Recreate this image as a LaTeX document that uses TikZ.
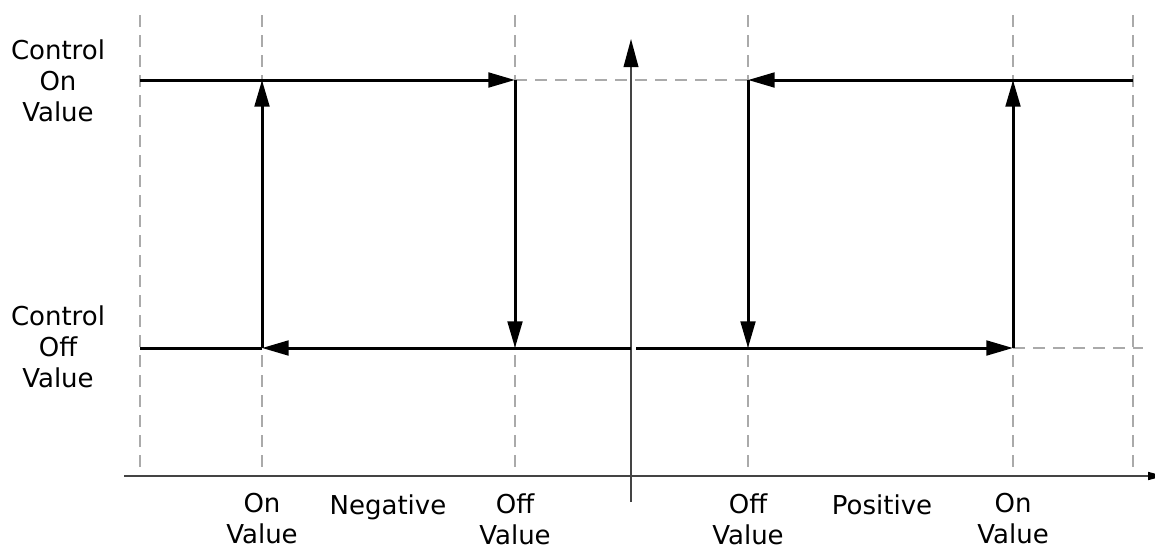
\documentclass[tikz,border=0pt]{standalone}
\usepackage{fontspec}
\setmainfont{DejaVu Sans}
\usetikzlibrary{arrows.meta}
\tikzset{every picture/.style={line width=0.75pt}}
\tikzset{
  guide/.style={color={rgb, 255:red, 170; green, 170; blue, 170}, line width=0.9pt, dash pattern={on 9pt off 6pt}},
  axis/.style={color={rgb, 255:red, 68; green, 68; blue, 68}, line width=1.2pt},
  level/.style={line width=2.25pt},
  hop/.style={level, -{Triangle[length=20pt,width=11pt]}},
  lbl/.style={font=\fontsize{19.5}{23.2}\selectfont, align=center, inner sep=0pt}
}

\begin{document}
\begin{tikzpicture}[x=0.75pt,y=0.75pt,yscale=-1,xscale=1]
\useasboundingbox (0,0) rectangle (1155,547);

% Points
\coordinate (leftTop) at (140,80);
\coordinate (leftBot) at (140,348);
\coordinate (negOnTop) at (262,80);
\coordinate (negOnBot) at (262,348);
\coordinate (negOffTop) at (515,80);
\coordinate (negOffBot) at (515,348);
\coordinate (midBotL) at (631,348);
\coordinate (midBotR) at (636,348);
\coordinate (posOffTop) at (748,80);
\coordinate (posOffBot) at (748,348);
\coordinate (posOnTop) at (1013,80);
\coordinate (posOnBot) at (1013,348);
\coordinate (rightTop) at (1133,80);
\coordinate (rightBot) at (1143,348);
\coordinate (xStart) at (124,476);
\coordinate (xEnd) at (1164,476);
\coordinate (yStart) at (631,502);
\coordinate (yEnd) at (631,39);

% Dashed guides
\foreach \gx in {140,262,515,748,1013,1133}
  \draw [guide] (\gx,15) -- (\gx,476) ;
\draw [guide] (negOffTop) -- (posOffTop) ;
\draw [guide] (posOnBot) -- (rightBot) ;

% Axes
\draw [axis, -{Triangle[length=12pt,width=6pt,color=black]}] (xStart) -- (xEnd) ;
\draw [axis, -{Triangle[length=21pt,width=11pt,color=black]}] (yStart) -- (yEnd) ;

% Negative side
\draw [level] (leftTop) -- (negOnTop) ;
\draw [hop] (negOnTop) -- (negOffTop) ;
\draw [hop] (negOffTop) -- (negOffBot) ;
\draw [level] (leftBot) -- (negOnBot) ;
\draw [hop] (midBotL) -- (negOnBot) ;
\draw [hop] (negOnBot) -- (negOnTop) ;

% Positive side
\draw [level] (posOnTop) -- (rightTop) ;
\draw [hop] (rightTop) -- (posOffTop) ;
\draw [hop] (posOffTop) -- (posOffBot) ;
\draw [hop] (midBotR) -- (posOnBot) ;
\draw [hop] (posOnBot) -- (posOnTop) ;

% Text Node
\node (ctrlOn) [lbl, anchor=north] at (58,39) {Control\\On\\Value};
% Text Node
\node (ctrlOff) [lbl, anchor=north] at (58,305) {Control\\Off\\Value};
% Text Node
\node (negOn) [lbl, anchor=north] at (262,493) {On\\Value};
% Text Node
\node (negTxt) [lbl, anchor=north] at (388,494) {Negative};
% Text Node
\node (negOff) [lbl, anchor=north] at (515,493) {Off\\Value};
% Text Node
\node (posOff) [lbl, anchor=north] at (748,493) {Off\\Value};
% Text Node
\node (posTxt) [lbl, anchor=north] at (882,494) {Positive};
% Text Node
\node (posOn) [lbl, anchor=north] at (1013,493) {On\\Value};

\end{tikzpicture}
\end{document}
